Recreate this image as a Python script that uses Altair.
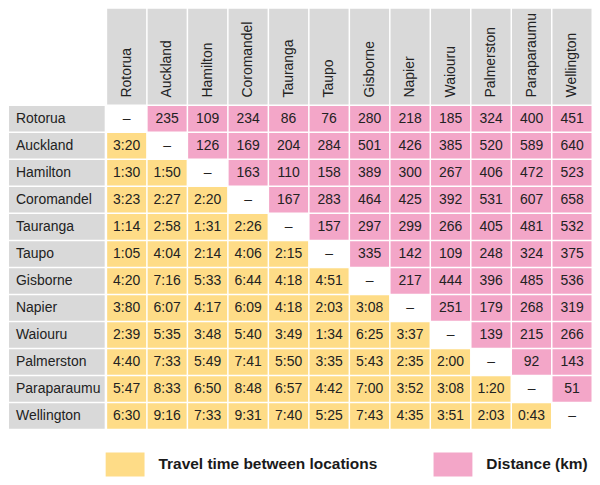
import altair as alt
import pandas as pd

cities = ["Rotorua", "Auckland", "Hamilton", "Coromandel", "Tauranga", "Taupo",
          "Gisborne", "Napier", "Waiouru", "Palmerston", "Paraparaumu", "Wellington"]

# lower triangle: travel time (row city -> column city, columns before the diagonal)
travel_times = [
    [],
    ["3:20"],
    ["1:30", "1:50"],
    ["3:23", "2:27", "2:20"],
    ["1:14", "2:58", "1:31", "2:26"],
    ["1:05", "4:04", "2:14", "4:06", "2:15"],
    ["4:20", "7:16", "5:33", "6:44", "4:18", "4:51"],
    ["3:80", "6:07", "4:17", "6:09", "4:18", "2:03", "3:08"],
    ["2:39", "5:35", "3:48", "5:40", "3:49", "1:34", "6:25", "3:37"],
    ["4:40", "7:33", "5:49", "7:41", "5:50", "3:35", "5:43", "2:35", "2:00"],
    ["5:47", "8:33", "6:50", "8:48", "6:57", "4:42", "7:00", "3:52", "3:08", "1:20"],
    ["6:30", "9:16", "7:33", "9:31", "7:40", "5:25", "7:43", "4:35", "3:51", "2:03", "0:43"],
]

# upper triangle: distance in km (row city -> column cities after the diagonal)
distances = [
    [235, 109, 234, 86, 76, 280, 218, 185, 324, 400, 451],
    [126, 169, 204, 284, 501, 426, 385, 520, 589, 640],
    [163, 110, 158, 389, 300, 267, 406, 472, 523],
    [167, 283, 464, 425, 392, 531, 607, 658],
    [157, 297, 299, 266, 405, 481, 532],
    [335, 142, 109, 248, 324, 375],
    [217, 444, 396, 485, 536],
    [251, 179, 268, 319],
    [139, 215, 266],
    [92, 143],
    [51],
    [],
]

TIME_LABEL = "Travel time between locations"
DIST_LABEL = "Distance (km)"
legend_labels = [TIME_LABEL, DIST_LABEL]

FONT = "Liberation Sans"
GRAY = "#d9d9d9"
YELLOW = "#fedc87"
PINK = "#f3a6c8"
TEXT = "#222222"
FS = 14

records = []
for i, r in enumerate(cities):
    for j, c in enumerate(cities):
        if j < i:
            records.append({"row": r, "col": c, "text": travel_times[i][j], "kind": TIME_LABEL})
        elif j > i:
            records.append({"row": r, "col": c, "text": str(distances[i][j - i - 1]), "kind": DIST_LABEL})
        else:
            records.append({"row": r, "col": c, "text": "\u2013", "kind": "diag"})
df = pd.DataFrame(records)
hdr = pd.DataFrame({"city": cities})

xs = alt.Scale(domain=cities, paddingInner=0.037, paddingOuter=0)
ys = alt.Scale(domain=cities, paddingInner=0.055, paddingOuter=0)

base = alt.Chart(df).encode(
    x=alt.X("col:N", scale=xs, axis=None),
    y=alt.Y("row:N", scale=ys, axis=None),
)
cells = base.transform_filter(alt.datum.kind != "diag").mark_rect().encode(
    color=alt.Color(
        "kind:N",
        scale=alt.Scale(domain=legend_labels, range=[YELLOW, PINK]),
        legend=alt.Legend(
            title=None,
            orient="none",
            legendX=97,
            legendY=437.5,
            direction="horizontal",
            symbolType="M-1,-0.615L1,-0.615L1,0.615L-1,0.615Z",
            symbolSize=1521,
            symbolStrokeWidth=0,
            symbolOpacity=1,
            labelOffset=14,
            columnPadding=56,
            labelLimit=400,
            labelFont=FONT,
            labelFontSize=15.5,
            labelFontWeight="bold",
            labelColor="#1a1a1a",
            padding=0,
        ),
    )
)
cell_text = base.mark_text(font=FONT, fontSize=FS, color=TEXT).encode(text="text:N")
grid = alt.layer(cells, cell_text).properties(width=486, height=324)

header = alt.layer(
    alt.Chart(hdr).mark_rect(color=GRAY).encode(x=alt.X("city:N", scale=xs, axis=None)),
    alt.Chart(hdr).mark_text(angle=270, align="left", baseline="middle",
                             font=FONT, fontSize=FS, color=TEXT).encode(
        x=alt.X("city:N", scale=xs, axis=None), y=alt.value(89), text="city:N"),
).properties(width=486, height=96)

row_header = alt.layer(
    alt.Chart(hdr).mark_rect(color=GRAY).encode(y=alt.Y("city:N", scale=ys, axis=None)),
    alt.Chart(hdr).mark_text(align="left", baseline="middle",
                             font=FONT, fontSize=FS, color=TEXT).encode(
        y=alt.Y("city:N", scale=ys, axis=None), x=alt.value(7), text="city:N"),
).properties(width=96, height=324)

corner = alt.Chart(pd.DataFrame({"a": [0]})).mark_rect(opacity=0).encode(
    x=alt.value(0), x2=alt.value(96), y=alt.value(0), y2=alt.value(96)
).properties(width=96, height=96)

chart = alt.vconcat(
    alt.hconcat(corner, header, spacing=1.5),
    alt.hconcat(row_header, grid, spacing=1.5),
    spacing=1.5,
).properties(
    padding={"left": 1, "top": 0, "right": 0, "bottom": 0}
).configure_view(strokeWidth=0)

chart.save("out.html", embed_options={"renderer": "svg", "actions": False})
